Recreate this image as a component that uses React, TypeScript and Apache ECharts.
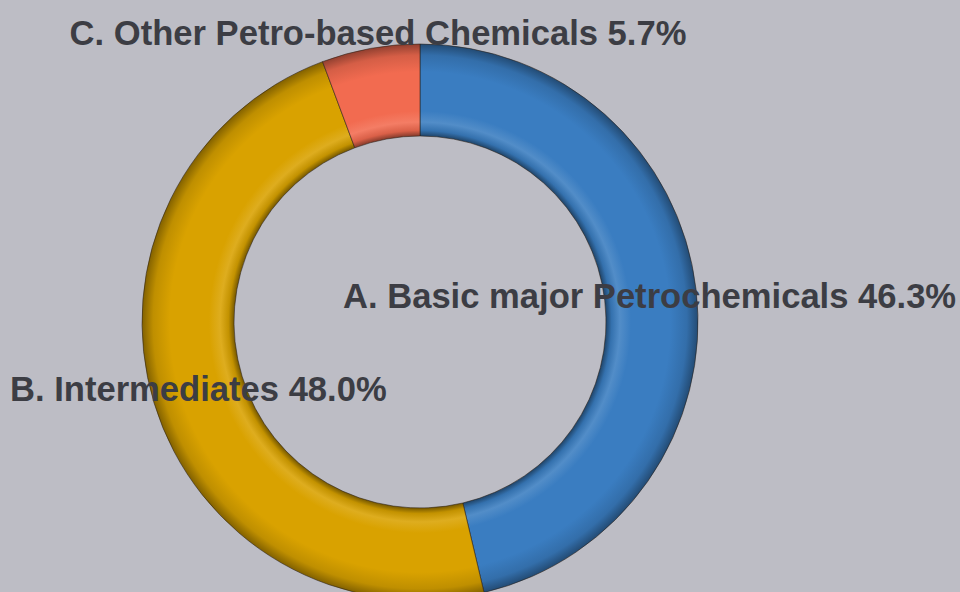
import React, { useEffect, useRef } from "react";
import * as echarts from "echarts";

const categories = [
  "A. Basic major Petrochemicals",
  "B. Intermediates",
  "C. Other Petro-based Chemicals",
];
const shares = [46.3, 48.0, 5.7];
const colors = ["#3A7DC1", "#D9A200", "#F26B50"];
const labelSpots = [
  { x: 343, y: 296, align: "left" },
  { x: 10, y: 389, align: "left" },
  { x: 378, y: 33, align: "center" },
];

const CX = 420;
const CY = 322;
const R0 = 186;
const R1 = 278;

function shade(hex: string, f: number) {
  const n = parseInt(hex.slice(1), 16);
  let r = (n >> 16) & 255, g = (n >> 8) & 255, b = n & 255;
  if (f < 0) {
    r = Math.round(r * (1 + f)); g = Math.round(g * (1 + f)); b = Math.round(b * (1 + f));
  } else {
    r = Math.round(r + (255 - r) * f); g = Math.round(g + (255 - g) * f); b = Math.round(b + (255 - b) * f);
  }
  return `rgb(${r},${g},${b})`;
}

export default function App() {
  const ref = useRef<HTMLDivElement>(null);
  useEffect(() => {
    const chart = echarts.init(ref.current!, null, { renderer: "svg" });
    const k = R0 / R1;
    chart.setOption({
      animation: false,
      backgroundColor: "#BDBDC5",
      series: [
        {
          type: "pie",
          center: [CX, CY],
          radius: [R0, R1],
          startAngle: 90,
          clockwise: true,
          avoidLabelOverlap: false,
          itemStyle: { borderColor: "rgba(40,30,20,0.55)", borderWidth: 1 },
          data: categories.map((name, i) => ({
            name,
            value: shares[i],
            itemStyle: {
              color: {
                type: "radial",
                x: CX,
                y: CY,
                r: R1,
                global: true,
                colorStops: [
                  { offset: 0, color: shade(colors[i], -0.5) },
                  { offset: k, color: shade(colors[i], -0.45) },
                  { offset: k + 0.02, color: shade(colors[i], -0.1) },
                  { offset: k + 0.05, color: shade(colors[i], 0.12) },
                  { offset: k + 0.09, color: colors[i] },
                  { offset: 0.9, color: colors[i] },
                  { offset: 0.96, color: shade(colors[i], -0.12) },
                  { offset: 1, color: shade(colors[i], -0.4) },
                ],
              },
            },
          })),
          label: {
            show: true,
            position: "outside",
            formatter: (p: any) => `${p.name} ${shares[p.dataIndex].toFixed(1)}%`,
            fontFamily: "'Liberation Sans', Arial, sans-serif",
            fontWeight: "bold",
            fontSize: 34.6,
            color: "#3C3D44",
          },
          labelLine: { show: false },
          labelLayout: (p: any) => {
            const s = labelSpots[p.dataIndex];
            return { x: s.x, y: s.y, align: s.align, verticalAlign: "middle" };
          },
        },
      ],
    });
    return () => chart.dispose();
  }, []);
  return (
    <div
      ref={ref}
      style={{ position: "fixed", left: 0, top: 0, width: 960, height: 592 }}
    />
  );
}
